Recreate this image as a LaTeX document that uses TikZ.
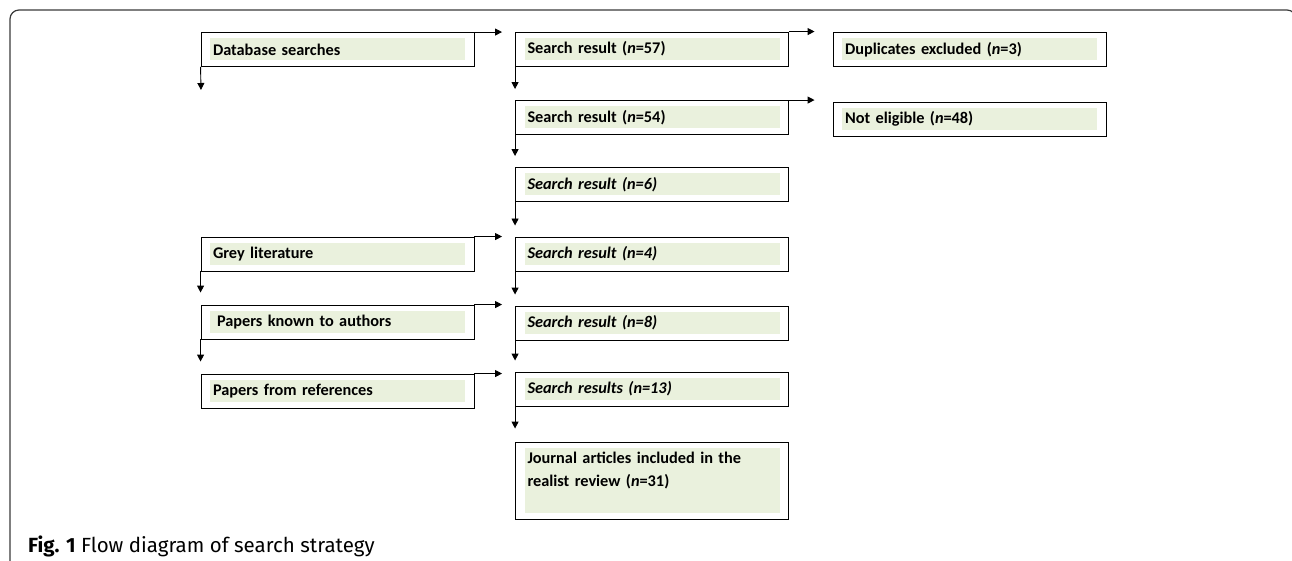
\documentclass[tikz,border=0pt]{standalone}
\usepackage{fontspec}
\setmainfont{Carlito}
\newfontfamily\capfont{Fira Sans}
\usepackage{tikz}
\usetikzlibrary{arrows.meta}
\definecolor{boxgreen}{HTML}{EAF1DD}
\definecolor{framegrey}{HTML}{3A3A3A}
\tikzset{
  stagebox/.style={draw, line width=0.9pt, fill=white, minimum width=273pt, minimum height=34pt,
    inner xsep=12pt, text width=249pt, align=left, font=\bfseries\fontsize{16.3}{23}\selectfont,
    path picture={\fill[boxgreen] ([shift={(9pt,-6pt)}]path picture bounding box.north west)
      rectangle ([shift={(-9pt,6pt)}]path picture bounding box.south east);}},
  flow/.style={-{Triangle[length=7pt,width=7pt]}, line width=0.9pt},
}

\begin{document}
\begin{tikzpicture}[x=1pt,y=-1pt]
		\useasboundingbox (0,0) rectangle (1292,561);
		% outer frame
		\draw[framegrey, line width=1.2pt, rounded corners=9pt] (10,600)--(10,10)--(1296,10)--(1296,600);
		% left column
		\node[stagebox] (db) at (337.5,49.5) {Database searches};
		\node[stagebox] (gl) at (337.5,254) {Grey literature};
		\node[stagebox] (pk) at (337.5,322) {\hspace{4pt}Papers known to authors};
		\node[stagebox] (pr) at (337.5,391) {Papers from references};
		\coordinate (dbend) at (201,90);
		% middle column
		\node[stagebox] (sr57) at (652,49) {Search result (\textit{n}=57)};
		\node[stagebox] (sr54) at (652,117.5) {Search result (\textit{n}=54)};
		\node[stagebox] (sr6) at (652,184.5) {\textit{Search result (n=6)}};
		\node[stagebox] (sr4) at (652,254) {\textit{Search result (n=4)}};
		\node[stagebox] (sr8) at (652,323) {\textit{Search result (n=8)}};
		\node[stagebox] (sr13) at (652,389) {\textit{Search results (n=13)}};
		\node[stagebox, minimum height=77pt] (incl) at (652,480.5)
			{Journal articles included in the\\realist review (\textit{n}=31)\\\mbox{}};
		% right column
		\node[stagebox] (dup) at (969.5,49.5) {Duplicates excluded (\textit{n}=3)};
		\node[stagebox] (ne) at (969.5,119) {Not eligible (\textit{n}=48)};
		% arrows across
		\draw[flow, shorten >=13pt] (db.north east) -- (db.north east -| sr57.west);
		\draw[flow, shorten >=13pt] (gl.north east) -- (gl.north east -| sr4.west);
		\draw[flow, shorten >=13pt] (pk.north east) -- (pk.north east -| sr8.west);
		\draw[flow, shorten >=13pt] (pr.north east) -- (pr.north east -| sr13.west);
		\draw[flow, shorten >=18pt] (sr57.north east) -- (sr57.north east -| dup.west);
		\draw[flow, shorten >=18pt] (sr54.north east) -- (sr54.north east -| ne.west);
		% arrows down
		\draw[flow] (db.south west) -- (dbend);
		\draw[flow, shorten >=12pt] (gl.south west) -- (gl.south west |- pk.north);
		\draw[flow, shorten >=12pt] (pk.south west) -- (pk.south west |- pr.north);
		\draw[flow, shorten >=11pt] (sr57.south west) -- (sr57.south west |- sr54.north);
		\draw[flow, shorten >=11pt] (sr54.south west) -- (sr54.south west |- sr6.north);
		\draw[flow, shorten >=11pt] (sr6.south west) -- (sr6.south west |- sr4.north);
		\draw[flow, shorten >=11pt] (sr4.south west) -- (sr4.south west |- sr8.north);
		\draw[flow, shorten >=11pt] (sr8.south west) -- (sr8.south west |- sr13.north);
		\draw[flow, shorten >=13pt] (sr13.south west) -- (sr13.south west |- incl.north);
		% caption
		\node[anchor=base west, inner sep=0pt, font=\capfont\fontsize{20.5}{24}\selectfont] (cap) at (28,552)
			{\textbf{Fig. 1} Flow diagram of search strategy};
	\end{tikzpicture}
\end{document}
